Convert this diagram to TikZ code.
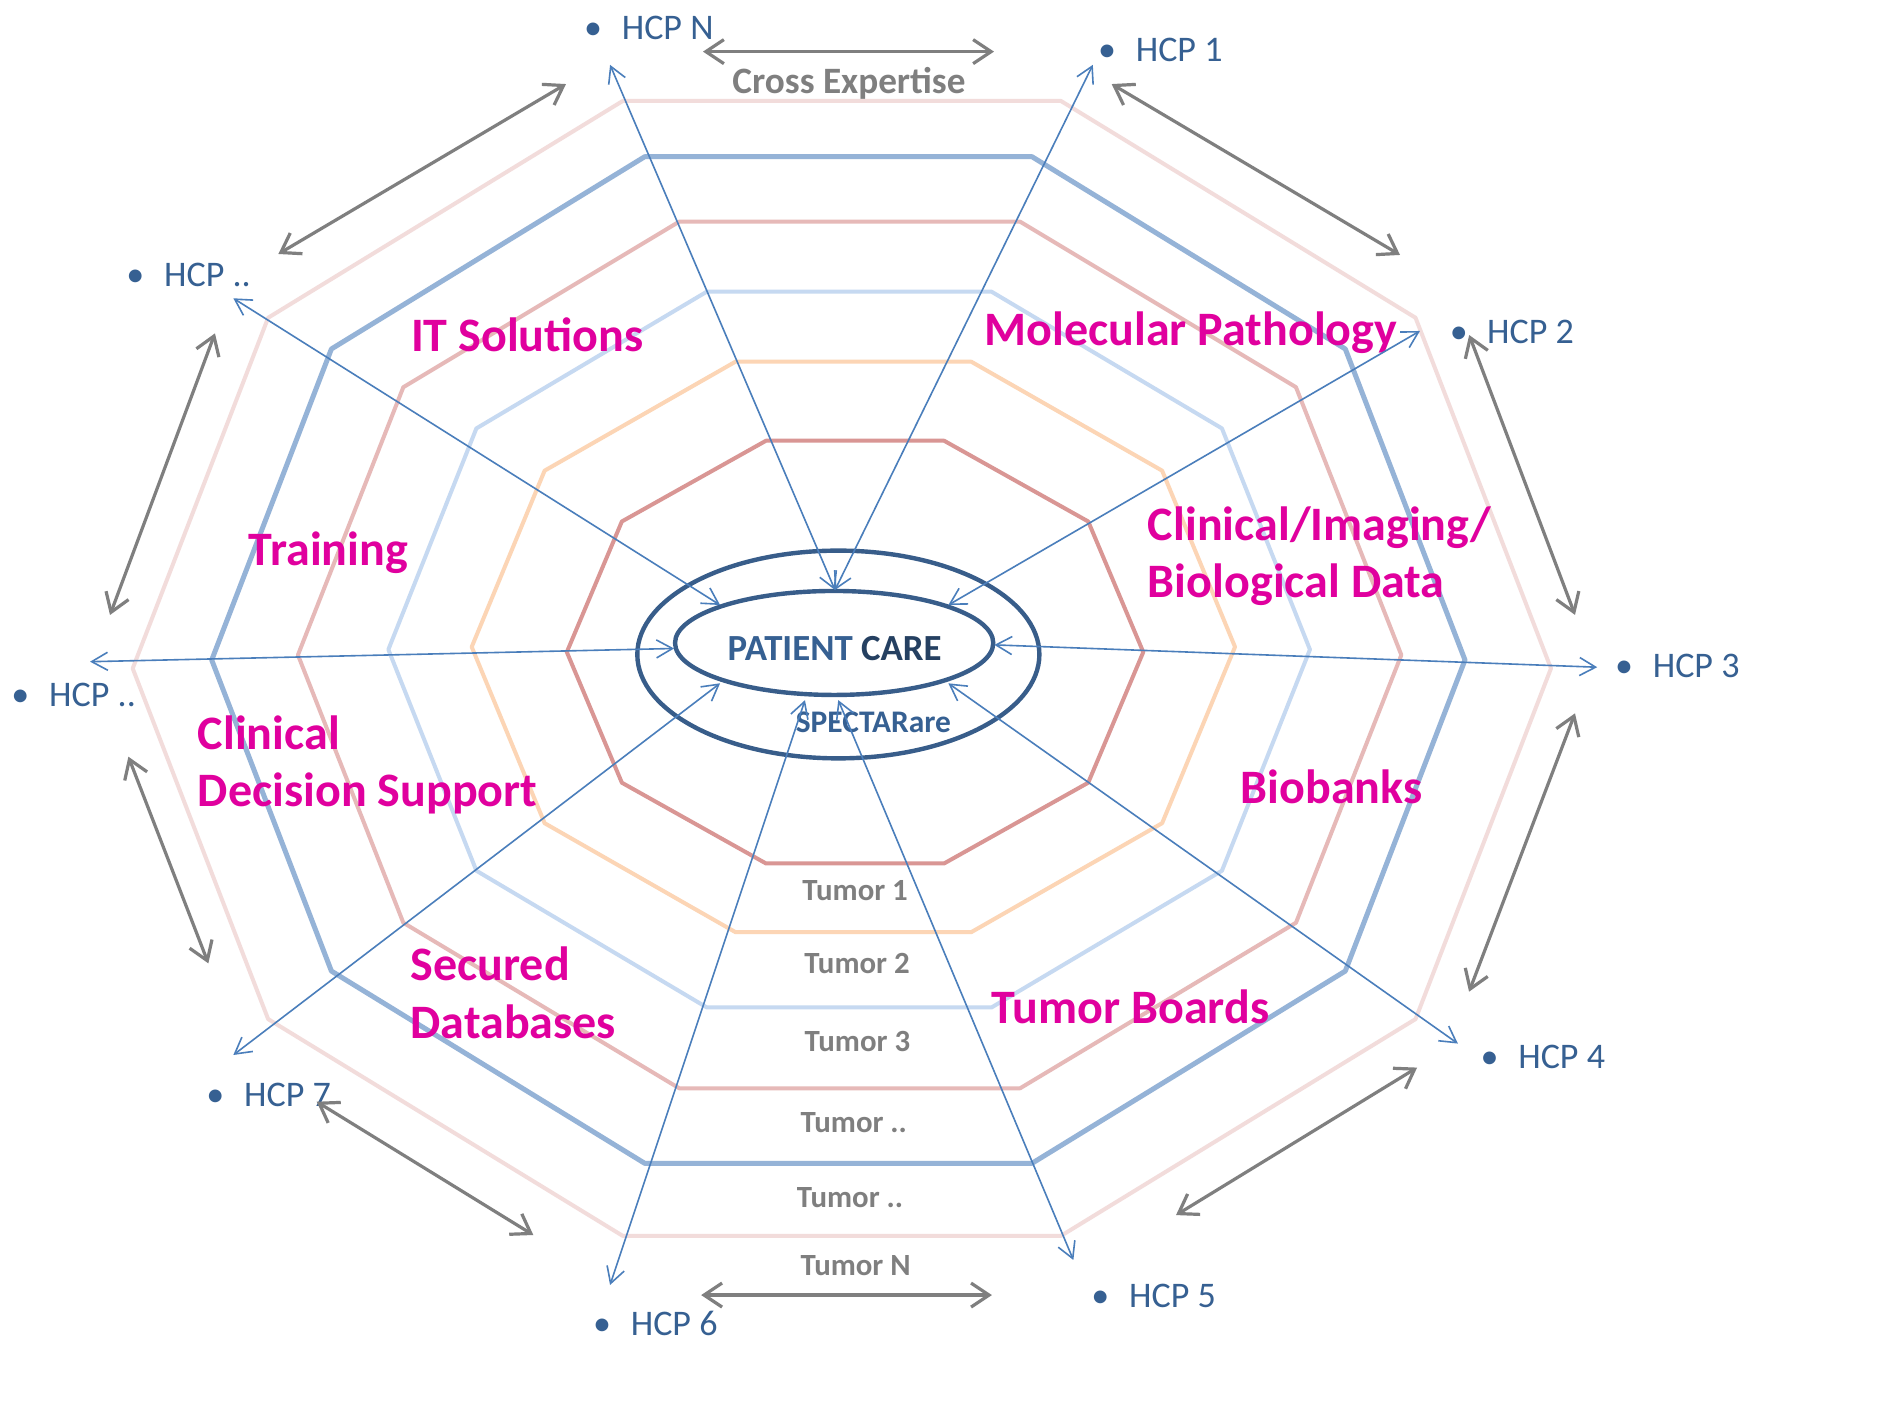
\documentclass[tikz,border=0pt]{standalone}
\usepackage{fontspec}
\setmainfont{Carlito}
\usetikzlibrary{arrows.meta}
\definecolor{ringA}{HTML}{F2DCDB}
\definecolor{ringB}{HTML}{95B3D7}
\definecolor{ringC}{HTML}{E6B9B8}
\definecolor{ringD}{HTML}{C6D9F1}
\definecolor{ringE}{HTML}{FCD5B5}
\definecolor{ringF}{HTML}{D99694}
\definecolor{ellblue}{HTML}{385D8A}
\definecolor{hcpblue}{HTML}{366092}
\definecolor{caredark}{HTML}{254061}
\definecolor{linkblue}{HTML}{4A7EBB}
\definecolor{graytxt}{HTML}{7F7F7F}
\definecolor{magentalbl}{HTML}{E0009E}
\newcommand{\ringdeca}[5]{%
  \draw[#5] ({#1-0.309*#3},{#2-#4}) -- ({#1+0.309*#3},{#2-#4})
   -- ({#1+0.809*#3},{#2-0.618*#4}) -- ({#1+#3},{#2})
   -- ({#1+0.809*#3},{#2+0.618*#4}) -- ({#1+0.309*#3},{#2+#4})
   -- ({#1-0.309*#3},{#2+#4}) -- ({#1-0.809*#3},{#2+0.618*#4})
   -- ({#1-#3},{#2}) -- ({#1-0.809*#3},{#2-0.618*#4}) -- cycle;}
\begin{document}
\begin{tikzpicture}[x=0.6pt,y=-0.6pt,
  ringline/.style={line width=2pt,line join=round},
  hcp/.style={anchor=base west,inner sep=0pt,text=hcpblue,font=\fontsize{18}{20}\selectfont},
  topic/.style={anchor=base west,inner sep=0pt,text=magentalbl,font=\bfseries\fontsize{24}{28}\selectfont},
  tumor/.style={anchor=base,inner sep=0pt,text=graytxt,font=\bfseries\fontsize{15.4}{18}\selectfont},
  link/.style={draw=linkblue,line width=0.8pt,{Straight Barb[length=8pt,width=9pt]}-{Straight Barb[length=8pt,width=9pt]}},
  spanarrow/.style={draw=graytxt,line width=1.6pt,{Straight Barb[length=9pt,width=12pt]}-{Straight Barb[length=9pt,width=12pt]}},
  ellline/.style={draw=ellblue,line width=2.2pt}]
\useasboundingbox (0,0) rectangle (1568,1175);
\fill[white] (0,0) rectangle (1568,1175);

% rings
\ringdeca{701}{556.6}{590.5}{472.5}{ringA,ringline}
\ringdeca{698.1}{549.6}{521.8}{419.1}{ringB,ringline,line width=2.5pt}
\ringdeca{707.5}{545.4}{459.4}{360.8}{ringC,ringline}
\ringdeca{707.1}{540.9}{383.7}{298}{ringD,ringline}
\ringdeca{710.6}{538.7}{317.8}{237.5}{ringE,ringline}
\ringdeca{712}{543}{240}{176}{ringF,ringline}

% ellipses
\draw[ellline] (698.1,545) ellipse [x radius=167.4, y radius=86.5];
\draw[ellline] (694.6,535.4) ellipse [x radius=132.5, y radius=43.3];
\node[anchor=base,inner sep=0pt,font=\bfseries\fontsize{18.4}{20}\selectfont] (care) at (695,550.2) {\textcolor{hcpblue}{PATIENT} \textcolor{caredark}{CARE}};
\node[anchor=base,inner sep=0pt,text=hcpblue,font=\bfseries\fontsize{15.7}{18}\selectfont] (spectra) at (727.3,609.8) {SPECTARare};

% HCP labels
\node[hcp] (hN) at (493.5,32.8) {\makebox[0pt]{•}\hspace{14.4pt}HCP N};
\node[hcp] (h1) at (921.5,51.4) {\makebox[0pt]{•}\hspace{14.4pt}HCP 1};
\node[hcp] (h2) at (1214.4,285.9) {\makebox[0pt]{•}\hspace{14.2pt}HCP 2};
\node[hcp] (h3) at (1352,564) {\makebox[0pt]{•}\hspace{14.4pt}HCP 3};
\node[hcp] (h4) at (1240,889.6) {\makebox[0pt]{•}\hspace{14.4pt}HCP 4};
\node[hcp] (h5) at (916,1088.5) {\makebox[0pt]{•}\hspace{14.4pt}HCP 5};
\node[hcp] (h6) at (501,1111.7) {\makebox[0pt]{•}\hspace{14.4pt}HCP 6};
\node[hcp] (h7) at (179,921.5) {\makebox[0pt]{•}\hspace{14.4pt}HCP 7};
\node[hcp] (hL) at (16.7,588.5) {\makebox[0pt]{•}\hspace{14.4pt}HCP ..};
\node[hcp] (hUL) at (112.4,238.7) {\makebox[0pt]{•}\hspace{14.4pt}HCP ..};

% topic labels
\node[topic] (its) at (342,292.8) {IT Solutions};
\node[topic] (trn) at (207,470.5) {Training};
\node[topic] (cds1) at (164.5,623.7) {Clinical};
\node[topic] (cds2) at (164.5,671.7) {Decision Support};
\node[topic] (sdb1) at (341.6,816.6) {Secured};
\node[topic] (sdb2) at (341.6,864.6) {Databases};
\node[topic] (mol) at (819.6,288.1) {Molecular Pathology};
\node[topic] (cib1) at (955.6,449.7) {Clinical/Imaging/};
\node[topic] (cib2) at (955.6,497.4) {Biological Data};
\node[topic] (bio) at (1032.8,669) {Biobanks};
\node[topic] (tb) at (825.2,852.2) {Tumor Boards};

% tumor labels
\node[tumor] (t1) at (712.1,750) {Tumor 1};
\node[tumor] (t2) at (713.6,810.5) {Tumor 2};
\node[tumor] (t3) at (714,875.7) {Tumor 3};
\node[tumor] (t4) at (711,943.2) {Tumor ..};
\node[tumor] (t5) at (707.8,1005.6) {Tumor ..};
\node[tumor] (t6) at (712.5,1061.7) {Tumor N};
\node[anchor=base,inner sep=0pt,text=graytxt,font=\bfseries\fontsize{18.6}{20}\selectfont] (cross) at (707,77.7) {Cross Expertise};

% connector end points
\coordinate (oN) at (508,54);
\coordinate (o1) at (910,54);
\coordinate (o2) at (1182.4,275.6);
\coordinate (o3) at (1330,555.6);
\coordinate (o4) at (1214,869);
\coordinate (o5) at (893.8,1049.2);
\coordinate (o6) at (508,1070);
\coordinate (o7) at (194.3,878.5);
\coordinate (oL) at (75,551);
\coordinate (oUL) at (194.3,248.4);
\coordinate (iTop) at (695.3,491.3);
\coordinate (i2) at (789.7,503.8);
\coordinate (i3) at (828,537);
\coordinate (i4) at (789.7,569);
\coordinate (i5) at (698,583);
\coordinate (i6) at (670.3,583);
\coordinate (i7) at (599.6,569);
\coordinate (iL) at (561.3,540);
\coordinate (iUL) at (599.6,503.8);

\draw[link] (oN) -- (iTop);
\draw[link] (o1) -- (iTop);
\draw[link] (o2) -- (i2);
\draw[link] (o3) -- (i3);
\draw[link] (o4) -- (i4);
\draw[link] (o5) -- (i5);
\draw[link] (o6) -- (i6);
\draw[link] (o7) -- (i7);
\draw[link] (oL) -- (iL);
\draw[link] (oUL) -- (iUL);

% gray cross-expertise arrows
\coordinate (ga1) at (585.4,43);   \coordinate (ga2) at (827.7,43);
\coordinate (gb1) at (231.8,211.5); \coordinate (gb2) at (471.3,70);
\coordinate (gc1) at (925.7,70);   \coordinate (gc2) at (1165.8,212.3);
\coordinate (gd1) at (1223.4,279); \coordinate (gd2) at (1311.5,512);
\coordinate (ge1) at (1311.5,594); \coordinate (ge2) at (1223.3,825.8);
\coordinate (gf1) at (1180,889);   \coordinate (gf2) at (979.3,1011.8);
\coordinate (gg1) at (583.9,1078.4); \coordinate (gg2) at (826,1078.4);
\coordinate (gh1) at (263.7,917.4); \coordinate (gh2) at (444.1,1028.4);
\coordinate (gi1) at (106.9,630.1); \coordinate (gi2) at (173.5,802.2);
\coordinate (gj1) at (179,277.6);  \coordinate (gj2) at (91.6,512.1);
\draw[spanarrow] (ga1) -- (ga2);
\draw[spanarrow] (gb1) -- (gb2);
\draw[spanarrow] (gc1) -- (gc2);
\draw[spanarrow] (gd1) -- (gd2);
\draw[spanarrow] (ge1) -- (ge2);
\draw[spanarrow] (gf1) -- (gf2);
\draw[spanarrow] (gg1) -- (gg2);
\draw[spanarrow] (gh1) -- (gh2);
\draw[spanarrow] (gi1) -- (gi2);
\draw[spanarrow] (gj1) -- (gj2);
\end{tikzpicture}
\end{document}
